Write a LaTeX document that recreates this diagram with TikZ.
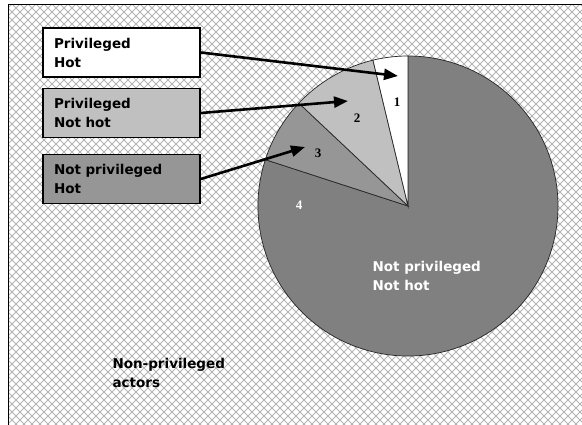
\documentclass[tikz,border=0pt]{standalone}
\usepackage{fontspec}
\setmainfont{DejaVu Sans}
\newfontfamily\numfont{Liberation Serif}
\usetikzlibrary{arrows.meta}
\definecolor{sliceA}{HTML}{FFFFFF}
\definecolor{sliceB}{HTML}{C0C0C0}
\definecolor{sliceC}{HTML}{969696}
\definecolor{sliceD}{HTML}{808080}
\definecolor{hatch}{HTML}{B4B4B4}
\tikzset{
  legendbox/.style={draw=black, line width=1.6pt, minimum width=157pt, minimum height=49pt,
    text width=135pt, inner xsep=11pt, inner ysep=0pt, align=left,
    font=\bfseries\fontsize{13.5}{19}\selectfont},
  slice/.style={draw=black!85, line width=0.7pt},
  pointer/.style={line width=2.6pt, -{Triangle[length=14pt,width=11pt]}},
  slicenum/.style={font=\numfont\bfseries\fontsize{13}{15}\selectfont},
  pielabel/.style={align=left, font=\bfseries\fontsize{13.5}{19}\selectfont}
}
\begin{document}
\begin{tikzpicture}[x=1pt,y=-1pt]
\useasboundingbox (0,0) rectangle (582,425);
% hatched background
\begin{scope}
  \clip (8,5) rectangle (582,425);
  \foreach \k in {-60,...,130} {
    \draw[hatch, line width=0.8pt] (8*\k,0) -- ++(430,430);
    \draw[hatch, line width=0.8pt] (8*\k,0) -- ++(-430,430);
  }
\end{scope}
\draw[line width=1pt] (8,425) -- (8,5) -- (582,5);

% pie
\begin{scope}[shift={(408,206)}, yscale=-1]
  \coordinate (c) at (0,0);
  \filldraw[slice, fill=sliceD] (c) -- (162:150) arc[start angle=162, end angle=450, radius=150] -- cycle;
  \filldraw[slice, fill=sliceC] (c) -- (136.7:150) arc[start angle=136.7, end angle=162, radius=150] -- cycle;
  \filldraw[slice, fill=sliceB] (c) -- (103.5:150) arc[start angle=103.5, end angle=136.7, radius=150] -- cycle;
  \filldraw[slice, fill=sliceA] (c) -- (90:150) arc[start angle=90, end angle=103.5, radius=150] -- cycle;
\end{scope}

\node[slicenum] (n1) at (397,102) {1};
\node[slicenum] (n2) at (357,118) {2};
\node[slicenum] (n3) at (318,153) {3};
\node[slicenum, white] (n4) at (299,205) {4};

\node[pielabel, white, anchor=north west] (main) at (369,258) {Not privileged\\Not hot};
\node[pielabel, anchor=north west] (np) at (109,355) {Non-privileged\\actors};

% legend boxes
\node[legendbox, fill=sliceA] (b1) at (121.5,52.5) {Privileged\\Hot};
\node[legendbox, fill=sliceB] (b2) at (121.5,113) {Privileged\\Not hot};
\node[legendbox, fill=sliceC] (b3) at (121.5,179) {Not privileged\\Hot};

\coordinate (t1) at (398,76);
\coordinate (t2) at (348,101);
\coordinate (t3) at (305,147);
\draw[pointer] (b1.east) -- (t1);
\draw[pointer] (b2.east) -- (t2);
\draw[pointer] (b3.east) -- (t3);
\end{tikzpicture}
\end{document}
